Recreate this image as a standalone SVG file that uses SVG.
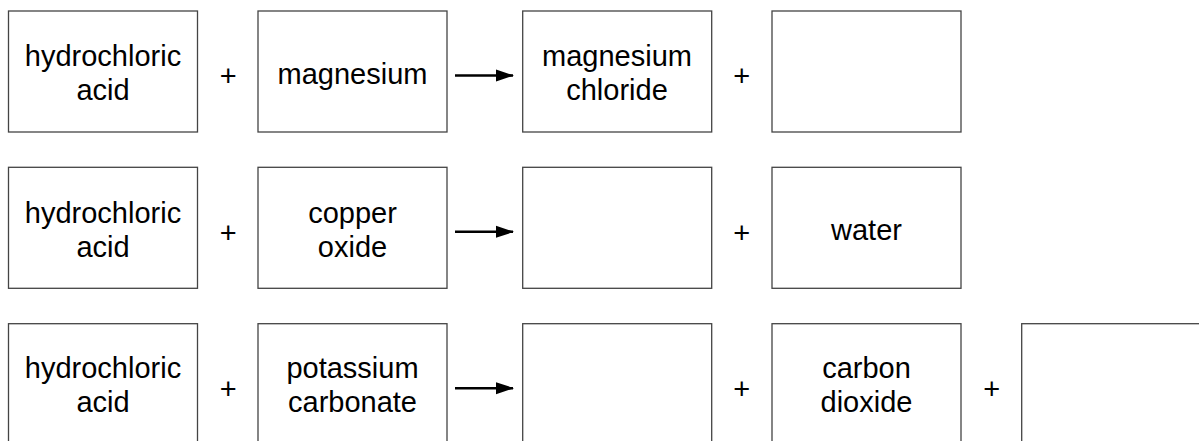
<svg xmlns="http://www.w3.org/2000/svg" width="1199" height="441" viewBox="0 0 1199 441">
<style>
.b{fill:#fff;stroke:#444;stroke-width:1.3}
.t{font-family:"Liberation Sans",Arial,sans-serif;font-size:29px;fill:#000;text-anchor:middle}
.p{font-family:"Liberation Sans",Arial,sans-serif;font-size:29px;fill:#000;text-anchor:middle}
.a{stroke:#000;stroke-width:2.5;fill:none}
</style>
<defs>
<marker id="ah" markerWidth="18" markerHeight="14" refX="17" refY="7" orient="auto" markerUnits="userSpaceOnUse">
<path d="M0,1 L18,7 L0,13 Z" fill="#000"/>
</marker>
</defs>
<g id="r1n1"><rect class="b" x="8.5" y="11" width="189" height="121"/><text class="t" x="103" y="66.3">hydrochloric</text><text class="t" x="103" y="100.3">acid</text></g>
<g id="r1n2"><rect class="b" x="258" y="11" width="189" height="121"/><text class="t" x="352.5" y="83.5">magnesium</text></g>
<g id="r1n3"><rect class="b" x="522.7" y="11" width="189" height="121"/><text class="t" x="617" y="66.3">magnesium</text><text class="t" x="617" y="100.3">chloride</text></g>
<g id="r1n4"><rect class="b" x="772" y="11" width="189" height="121"/></g>
<g id="r2n1"><rect class="b" x="8.5" y="167.3" width="189" height="121"/><text class="t" x="103" y="222.5">hydrochloric</text><text class="t" x="103" y="256.5">acid</text></g>
<g id="r2n2"><rect class="b" x="258" y="167.3" width="189" height="121"/><text class="t" x="352.5" y="222.5">copper</text><text class="t" x="352.5" y="256.5">oxide</text></g>
<g id="r2n3"><rect class="b" x="522.7" y="167.3" width="189" height="121"/></g>
<g id="r2n4"><rect class="b" x="772" y="167.3" width="189" height="121"/><text class="t" x="866.5" y="240">water</text></g>
<g id="r3n1"><rect class="b" x="8.5" y="323.7" width="189" height="121"/><text class="t" x="103" y="378">hydrochloric</text><text class="t" x="103" y="412">acid</text></g>
<g id="r3n2"><rect class="b" x="258" y="323.7" width="189" height="121"/><text class="t" x="352.5" y="377.5">potassium</text><text class="t" x="352.5" y="411.5">carbonate</text></g>
<g id="r3n3"><rect class="b" x="522.7" y="323.7" width="189" height="121"/></g>
<g id="r3n4"><rect class="b" x="772" y="323.7" width="189" height="121"/><text class="t" x="866.5" y="378">carbon</text><text class="t" x="866.5" y="412">dioxide</text></g>
<g id="r3n5"><rect class="b" x="1021.7" y="323.7" width="189" height="121"/></g>
<g id="signs">
<text class="p" x="228.3" y="86">+</text>
<text class="p" x="741.7" y="86">+</text>
<text class="p" x="228.3" y="243">+</text>
<text class="p" x="741.7" y="243">+</text>
<text class="p" x="228.3" y="399">+</text>
<text class="p" x="741.7" y="399">+</text>
<text class="p" x="991.7" y="399">+</text>
</g>
<g id="connectors">
<line class="a" x1="455" y1="75.5" x2="513" y2="75.5" marker-end="url(#ah)"/>
<line class="a" x1="455" y1="231.8" x2="513" y2="231.8" marker-end="url(#ah)"/>
<line class="a" x1="455" y1="388.2" x2="513" y2="388.2" marker-end="url(#ah)"/>
</g>
</svg>
